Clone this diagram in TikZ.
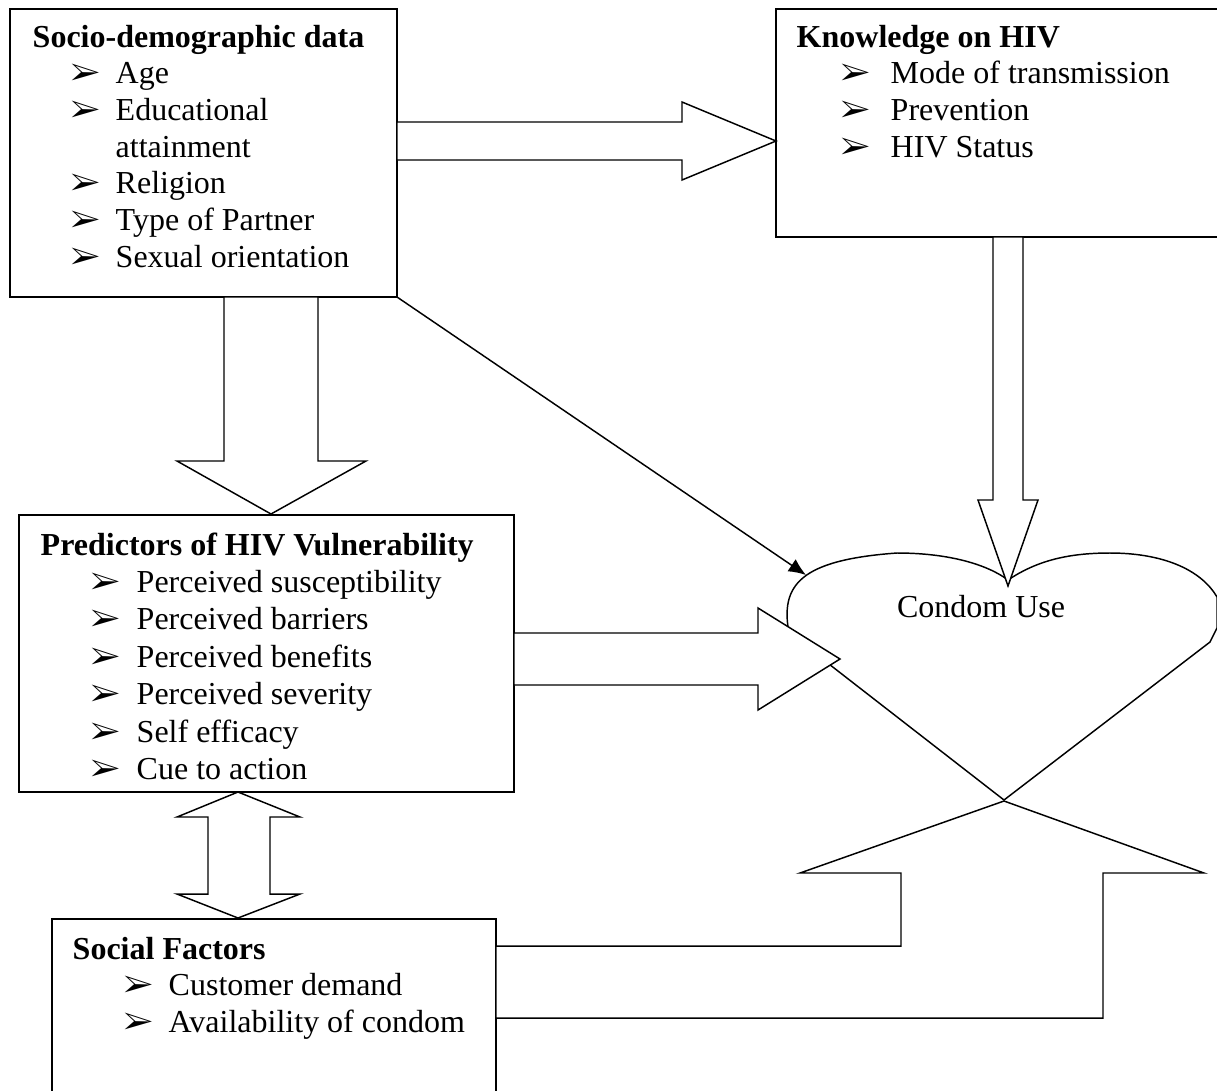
\documentclass[tikz,border=0pt]{standalone}
\usepackage{fontspec}
\setmainfont{Liberation Serif}
\usepackage{pifont}
\usetikzlibrary{arrows.meta}
\newlength\px
\setlength\px{0.75pt}
\newcommand\itm[3]{\hspace*{#1\px}\makebox[#2\px][l]{\ding{226}}#3}
\begin{document}
\begin{tikzpicture}[x=0.75pt,y=-0.75pt,line width=1.1pt,line join=miter,
  box/.style={draw,rectangle,inner sep=0pt,outer sep=0pt,anchor=north west,fill=white},
  blockarrow/.style={draw,fill=white},
  txt/.style={anchor=base west,inner sep=0pt},
  heartshape/.style={draw,fill=white}]
\useasboundingbox (0,0) rectangle (1217,1090);
\clip (0,0) rectangle (1217,1090);

% boxes
\node[box,minimum width=387\px,minimum height=288\px] (socio) at (10,9) {};
\node[box,minimum width=449\px,minimum height=228\px] (know) at (776,9) {};
\node[box,minimum width=495\px,minimum height=277\px] (pred) at (19,515) {};
\node[box,minimum width=444\px,minimum height=200\px] (social) at (52,919) {};

% heart (Condom Use)
\draw[heartshape] (1004,800) -- (789,633)
  .. controls (780,585) and (800,560) .. (897,553)
  .. controls (950,553) and (988,565) .. (1008,580)
  .. controls (1035,562) and (1065,553) .. (1110,553)
  .. controls (1160,553) and (1200,568) .. (1217,597)
  -- (1217,628) -- (1210,642) -- cycle;
\coordinate (heartpt) at (806,575);
\node[anchor=base,inner sep=0pt,font=\fontsize{24}{27.5}\selectfont] (condom) at (981,617) {Condom Use};

% block arrows
\draw[blockarrow] (397,122) -- (682,122) -- (682,102) -- (776,141) -- (682,180) -- (682,160) -- (397,160) -- cycle;
\draw[blockarrow] (224,297) -- (224,461) -- (177,461) -- (271,514) -- (366,461) -- (318,461) -- (318,297) -- cycle;
\draw[blockarrow] (993,237) -- (993,500) -- (978,500) -- (1008,586) -- (1038,500) -- (1023,500) -- (1023,237) -- cycle;
\draw[blockarrow] (514,633) -- (758,633) -- (758,608) -- (840,659) -- (758,710) -- (758,685) -- (514,685) -- cycle;
\draw[blockarrow] (238,792) -- (300,817) -- (270,817) -- (270,894) -- (300,894) -- (238,918) -- (177,894) -- (208,894) -- (208,817) -- (177,817) -- cycle;
\draw[blockarrow] (496,946) -- (901,946) -- (901,873) -- (800,873) -- (1004,801) -- (1204,873) -- (1103,873) -- (1103,1018) -- (496,1018) -- cycle;

% thin arrow
\draw[-{Latex[length=13pt,width=11pt]}] (socio.south east) -- (heartpt);

% texts
\node[txt,font=\fontsize{24}{27.5}\selectfont] (socio-t) at (32,47) {\begin{tabular}[t]{@{}l@{}}
\textbf{Socio-demographic data}\\
\itm{38}{45}{Age}\\
\itm{38}{45}{Educational}\\
\hspace*{83\px}attainment\\
\itm{38}{45}{Religion}\\
\itm{38}{45}{Type of Partner}\\
\itm{38}{45}{Sexual orientation}
\end{tabular}};

\node[txt,font=\fontsize{24}{27.5}\selectfont] (know-t) at (796,47) {\begin{tabular}[t]{@{}l@{}}
\textbf{Knowledge on HIV}\\
\itm{44}{50}{Mode of transmission}\\
\itm{44}{50}{Prevention}\\
\itm{44}{50}{HIV Status}
\end{tabular}};

\node[txt,font=\fontsize{24}{28.1}\selectfont] (pred-t) at (40,555) {\begin{tabular}[t]{@{}l@{}}
\textbf{Predictors of HIV Vulnerability}\\
\itm{50}{46}{Perceived susceptibility}\\
\itm{50}{46}{Perceived barriers}\\
\itm{50}{46}{Perceived benefits}\\
\itm{50}{46}{Perceived severity}\\
\itm{50}{46}{Self efficacy}\\
\itm{50}{46}{Cue to action}
\end{tabular}};

\node[txt,font=\fontsize{24}{27.4}\selectfont] (social-t) at (72,959) {\begin{tabular}[t]{@{}l@{}}
\textbf{Social Factors}\\
\itm{51}{45}{Customer demand}\\
\itm{51}{45}{Availability of condom}
\end{tabular}};
\end{tikzpicture}
\end{document}
